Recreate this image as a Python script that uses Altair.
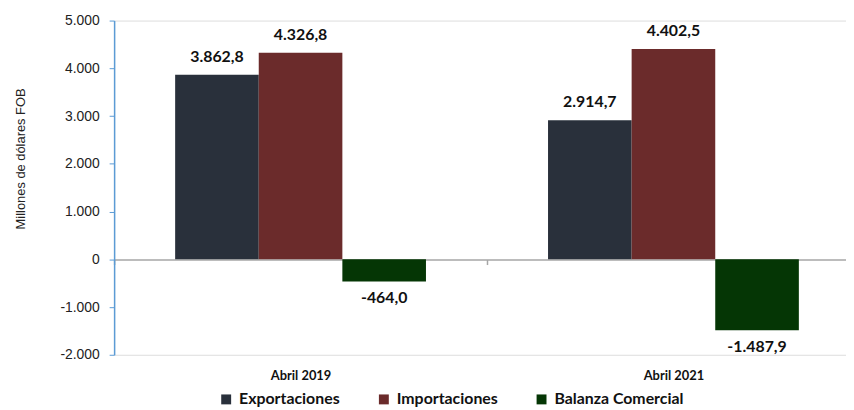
import altair as alt
import pandas as pd

categories = ["Abril 2019", "Abril 2021"]
series = ["Exportaciones", "Importaciones", "Balanza Comercial"]
exportaciones = [3862.8, 2914.7]
importaciones = [4326.8, 4402.5]
balanza = [-464.0, -1487.9]
colors = ["#29303B", "#6B2B2B", "#053605"]
y_ticks = [-2000, -1000, 0, 1000, 2000, 3000, 4000, 5000]


def es_fmt(v):
    return f"{v:,.1f}".replace(",", "#").replace(".", ",").replace("#", ".")


rows = []
for i, c in enumerate(categories):
    for s, vals in zip(series, [exportaciones, importaciones, balanza]):
        rows.append({"cat": c, "serie": s, "valor": vals[i], "label": es_fmt(vals[i])})
df = pd.DataFrame(rows)

W, H = 738, 337
XR = 752
zero_offset = -round(H * 2000 / 7000)

x_enc = alt.X(
    "cat:N",
    sort=categories,
    scale=alt.Scale(paddingInner=0, paddingOuter=0, range=[0, XR]),
    axis=alt.Axis(
        orient="bottom",
        offset=zero_offset,
        title=None,
        domainColor="#A6A6A6",
        domainWidth=1.5,
        tickBand="extent",
        tickSize=5,
        tickColor="#A6A6A6",
        tickWidth=1.5,
        labelAngle=0,
        labelPadding=106,
        labelFont="Lato",
        labelFontWeight="bold",
        labelFontSize=13,
        labelColor="#111111",
    ),
)
xoff_enc = alt.XOffset(
    "serie:N", sort=series, scale=alt.Scale(paddingInner=0, paddingOuter=0.73)
)
y_enc = alt.Y(
    "valor:Q",
    scale=alt.Scale(domain=[-2000, 5000], nice=False, zero=False),
    axis=alt.Axis(
        values=y_ticks,
        grid=False,
        domainColor="#5B9BD5",
        domainWidth=1.5,
        tickColor="#5B9BD5",
        tickSize=5,
        labelExpr="(datum.value < 0 ? '-' : '') + replace(format(abs(datum.value), ','), ',', '.')",
        labelFont="Liberation Sans",
        labelFontSize=14,
        labelColor="#222222",
        labelPadding=10,
        title="Millones de dólares FOB",
        titleFont="Liberation Sans",
        titleFontSize=13,
        titleFontWeight="normal",
        titleColor="#222222",
        titleX=-90,
        titleY=139,
        titleBaseline="alphabetic",
    ),
)

base = alt.Chart(df)

bars = base.mark_bar().encode(
    x=x_enc,
    xOffset=xoff_enc,
    y=y_enc,
    color=alt.Color(
        "serie:N",
        sort=series,
        scale=alt.Scale(domain=series, range=colors),
        legend=alt.Legend(
            title=None,
            orient="none",
            legendX=105,
            legendY=374,
            direction="horizontal",
            columns=3,
            columnPadding=36,
            symbolType="square",
            symbolSize=100,
            symbolStrokeWidth=0,
            labelOffset=5,
            labelFont="Lato",
            labelFontWeight="bold",
            labelFontSize=16,
            labelColor="#111111",
        ),
    ),
)

pos_labels = base.transform_filter("datum.valor >= 0").mark_text(
    font="Lato", fontWeight="bold", fontSize=16, color="#111111", baseline="middle", dy=-18
).encode(x=x_enc, xOffset=xoff_enc, y=y_enc, text="label:N")

neg_labels = base.transform_filter("datum.valor < 0").mark_text(
    font="Lato", fontWeight="bold", fontSize=16, color="#111111", baseline="middle", dy=17
).encode(x=x_enc, xOffset=xoff_enc, y=y_enc, text="label:N")

chart = (
    alt.layer(bars, pos_labels, neg_labels)
    .properties(
        width=W,
        height=H,
        autosize=alt.AutoSizeParams(type="none"),
        padding={"left": 107, "top": 11, "right": 0, "bottom": 54},
    )
    .configure_view(stroke=None)
    .configure(background="white")
)

chart.save("out.html", embed_options={"renderer": "svg", "actions": False})
